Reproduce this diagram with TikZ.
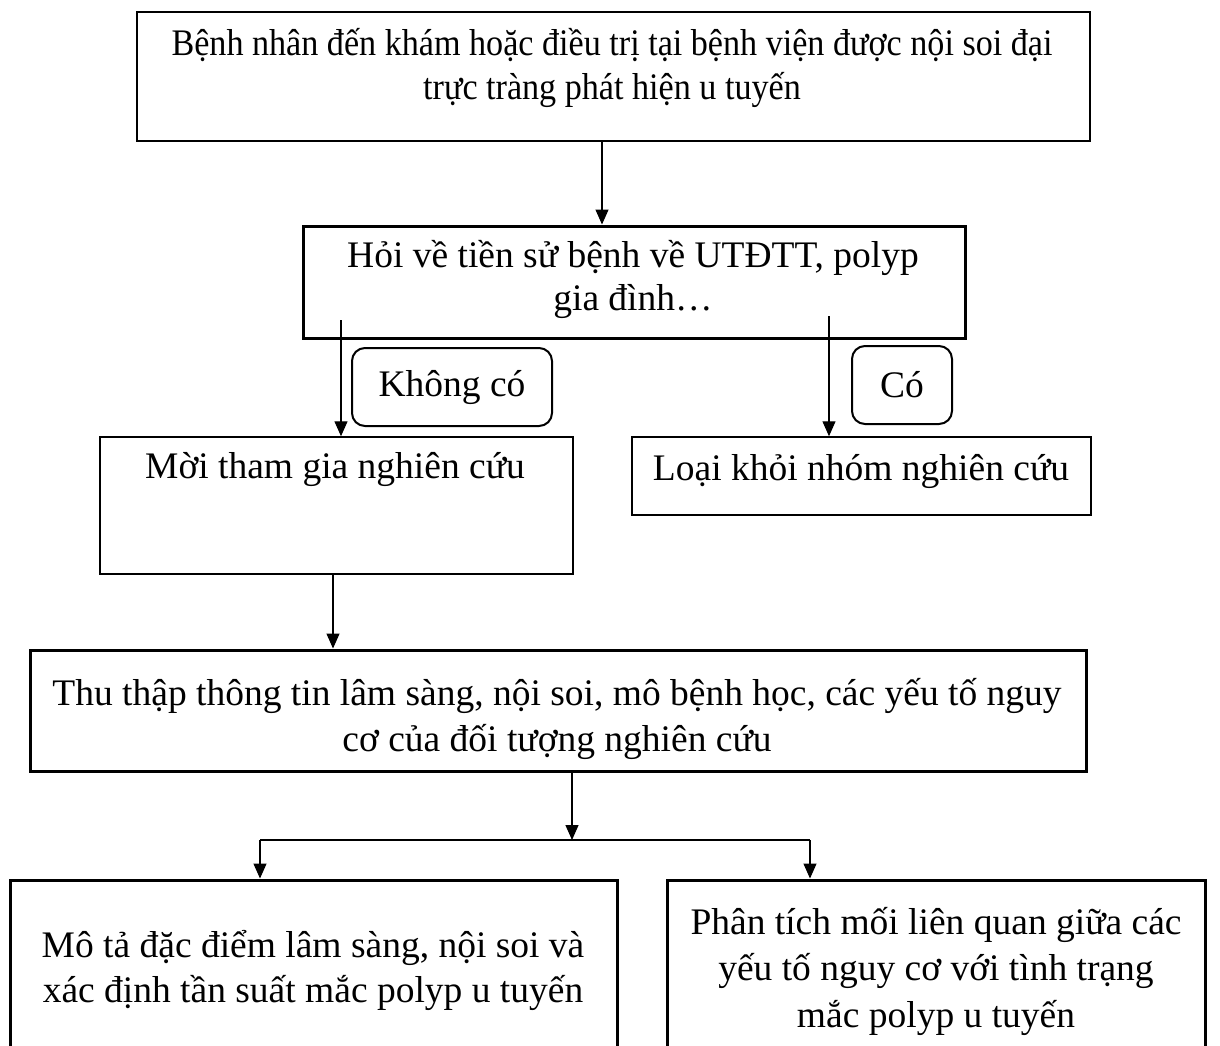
\documentclass[tikz,border=0pt]{standalone}
\usepackage{fontspec}
\setmainfont{Liberation Serif}
\usetikzlibrary{arrows.meta}
\begin{document}
\begin{tikzpicture}[x=1pt,y=-1pt,
  thinbox/.style={draw, line width=1.5pt, rectangle, inner sep=0pt},
  thickbox/.style={draw, line width=3pt, rectangle, inner sep=0pt},
  tagbox/.style={draw, line width=2pt, rectangle, rounded corners=13pt, inner sep=0pt},
  txt/.style={align=center, inner sep=0pt, font=\fontsize{37.5}{46.5}\selectfont},
  arr/.style={line width=1.3pt, -{Triangle[length=15pt,width=13pt]}},
  ln/.style={line width=1.3pt}]
\useasboundingbox (0,0) rectangle (1220,1045);
\clip (0,0) rectangle (1220,1045);
% boxes
\node[thinbox, minimum width=953pt, minimum height=129pt] (b1) at (613.5,76.5) {};
\node[thickbox, minimum width=662pt, minimum height=112pt] (b2) at (634,282) {};
\node[tagbox, minimum width=200pt, minimum height=78pt] (k) at (452,387) {};
\node[tagbox, minimum width=100pt, minimum height=78pt] (c) at (902,385) {};
\node[thinbox, minimum width=473pt, minimum height=137pt] (b3) at (336.5,505.5) {};
\node[thinbox, minimum width=459pt, minimum height=78pt] (b4) at (861.5,476) {};
\node[thickbox, minimum width=1056pt, minimum height=121pt] (b5) at (558,710.5) {};
\node[thickbox, minimum width=607pt, minimum height=200pt] (b6) at (313.5,980) {};
\node[thickbox, minimum width=538pt, minimum height=200pt] (b7) at (936,980) {};
% texts
\node[txt, font=\fontsize{37.5}{43.5}\selectfont] (t1) at (612,69) {\scalebox{0.91}[1]{\begin{tabular}{@{}c@{}}Bệnh nhân đến khám hoặc điều trị tại bệnh viện được nội soi đại\\trực tràng phát hiện u tuyến\end{tabular}}};
\node[txt, font=\fontsize{37.5}{43}\selectfont] (t2) at (633,279) {Hỏi về tiền sử bệnh về UTĐTT, polyp\\gia đình…};
\node[txt] (tk) at (452,387) {Không có};
\node[txt] (tc) at (902,385) {Có};
\node[txt] (t3) at (335,469) {Mời tham gia nghiên cứu};
\node[txt] (t4) at (861,471) {Loại khỏi nhóm nghiên cứu};
\node[txt] (t5) at (557,719) {Thu thập thông tin lâm sàng, nội soi, mô bệnh học, các yếu tố nguy\\cơ của đối tượng nghiên cứu};
\node[txt, font=\fontsize{37.5}{45}\selectfont] (t6) at (313,970) {Mô tả đặc điểm lâm sàng, nội soi và\\xác định tần suất mắc polyp u tuyến};
\node[txt] (t7) at (936,971) {Phân tích mối liên quan giữa các\\yếu tố nguy cơ với tình trạng\\mắc polyp u tuyến};
% connectors
\coordinate (a1) at (602,0);
\draw[arr] (a1 |- b1.south) -- (a1 |- b2.north);
\coordinate (kl) at (341,320);
\draw[arr] (kl) -- (kl |- b3.north);
\coordinate (cl) at (829,316);
\draw[arr] (cl) -- (cl |- b4.north);
\coordinate (a3) at (333,0);
\draw[arr] (a3 |- b3.south) -- (a3 |- b5.north);
\coordinate (a5) at (572,840);
\draw[arr] (a5 |- b5.south) -- (a5);
\coordinate (sl) at (260,840);
\coordinate (sr) at (810,840);
\draw[ln] (sl) -- (sr);
\draw[arr] (sl) -- (sl |- b6.north);
\draw[arr] (sr) -- (sr |- b7.north);
\end{tikzpicture}
\end{document}
